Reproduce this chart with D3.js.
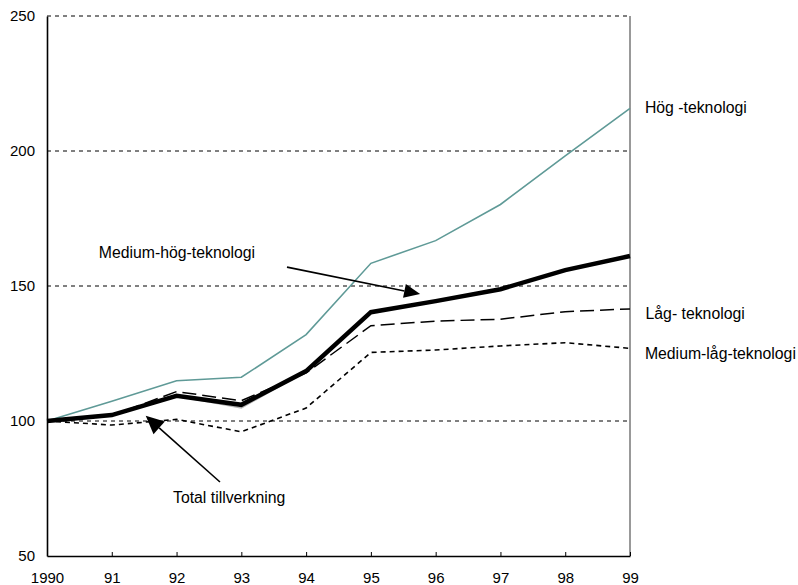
<!DOCTYPE html>
<html>
<head>
<meta charset="utf-8">
<script src="https://cdn.jsdelivr.net/npm/d3@7"></script>
<style>
  html, body { margin: 0; padding: 0; background: #fff; }
  svg { display: block; font-family: "Liberation Sans", Arial, sans-serif; }
</style>
</head>
<body>
<svg id="chart" width="798" height="585"></svg>
<script>
// Production index, 1990 = 100
const years = ["1990", "91", "92", "93", "94", "95", "96", "97", "98", "99"];
const yTicks = [50, 100, 150, 200, 250];

const hogTeknologi      = [100, 107.3, 114.9, 116.2, 132.0, 158.4, 166.8, 180.2, 198.2, 215.8];
const mediumHogTekn     = [100, 102.2, 109.3, 104.8, 118.5, 140.3, 144.4, 148.8, 155.9, 161.1];
const totalTillverkning = [100, 102.2, 109.3, 106.0, 118.5, 140.3, 144.4, 148.8, 155.9, 161.1];
const lagTeknologi      = [100, 102.0, 110.9, 107.5, 117.8, 135.3, 137.0, 137.7, 140.5, 141.5];
const mediumLagTekn     = [100,  98.5, 100.6,  96.0, 104.8, 125.4, 126.3, 127.8, 129.0, 126.9];

const svg = d3.select("#chart");
const plotLeft = 47, plotRight = 630, plotTop = 16, plotBottom = 556;

const x = d3.scaleLinear().domain([0, years.length - 1]).range([plotLeft, plotRight]);
const y = d3.scaleLinear().domain([50, 250]).range([plotBottom, plotTop]);

// dotted horizontal grid
svg.append("g").selectAll("line")
  .data(yTicks.filter(v => v > 50))
  .join("line")
  .attr("x1", plotLeft).attr("x2", plotRight)
  .attr("y1", d => y(d)).attr("y2", d => y(d))
  .attr("stroke", "#000").attr("stroke-width", 1)
  .attr("stroke-dasharray", "4,4");

// right frame line
svg.append("line")
  .attr("x1", plotRight).attr("x2", plotRight).attr("y1", plotTop).attr("y2", plotBottom)
  .attr("stroke", "#555").attr("stroke-width", 1.2);

// y axis
const yAxis = d3.axisLeft(y).tickValues(yTicks).tickSize(0).tickPadding(12);
const gy = svg.append("g").attr("transform", `translate(${plotLeft},0)`).call(yAxis);
gy.select(".domain").attr("stroke", "#000").attr("stroke-width", 1.6);
gy.selectAll("text").attr("font-size", 15).attr("fill", "#000")
  .attr("font-family", "Liberation Sans, Arial, sans-serif");

// x axis with inward ticks
const xAxis = d3.axisBottom(x).tickValues(d3.range(years.length))
  .tickFormat(i => years[i]).tickSizeInner(-4).tickSizeOuter(0).tickPadding(16);
const gx = svg.append("g").attr("transform", `translate(0,${plotBottom})`).call(xAxis);
gx.select(".domain").attr("stroke", "#000").attr("stroke-width", 1.6);
gx.selectAll(".tick line").attr("stroke", "#000").attr("stroke-width", 1);
gx.selectAll("text").attr("font-size", 15).attr("fill", "#000")
  .attr("font-family", "Liberation Sans, Arial, sans-serif");

const line = d3.line().x((d, i) => x(i)).y(d => y(d));

const series = [
  { values: hogTeknologi,      stroke: "#5f9a97", width: 1.6, dash: null },
  { values: mediumLagTekn,     stroke: "#000",    width: 1.6, dash: "5,4" },
  { values: lagTeknologi,      stroke: "#000",    width: 1.5, dash: "14,6" },
  { values: mediumHogTekn,     stroke: "#b5b5b5", width: 1.5, dash: null },
  { values: totalTillverkning, stroke: "#000",    width: 4.5, dash: null }
];

svg.append("g").selectAll("path")
  .data(series)
  .join("path")
  .attr("d", d => line(d.values))
  .attr("fill", "none")
  .attr("stroke", d => d.stroke)
  .attr("stroke-width", d => d.width)
  .attr("stroke-dasharray", d => d.dash)
  .attr("stroke-linejoin", "miter");

// series labels (positions in data units)
const labels = [
  { text: "Hög -teknologi",       xi: 9.23, v: 213.9 },
  { text: "Låg- teknologi",       xi: 9.24, v: 137.8 },
  { text: "Medium-låg-teknologi", xi: 9.23, v: 122.9 },
  { text: "Medium-hög-teknologi", xi: 0.80, v: 160.5 },
  { text: "Total tillverkning",   xi: 1.945, v: 69.5 }
];
svg.append("g").selectAll("text")
  .data(labels)
  .join("text")
  .attr("x", d => x(d.xi))
  .attr("y", d => y(d.v))
  .attr("font-size", 15.8)
  .attr("fill", "#000")
  .text(d => d.text);

// annotation arrows (data units: from -> tip)
const arrows = [
  { from: [3.705, 157.0], to: [5.76, 147.0], len: 16, half: 7 },
  { from: [2.67, 77.4],   to: [1.524, 101.9], len: 18, half: 8.5 }
];
const ga = svg.append("g");
arrows.forEach(a => {
  const x1 = x(a.from[0]), y1 = y(a.from[1]);
  const x2 = x(a.to[0]),   y2 = y(a.to[1]);
  const ang = Math.atan2(y2 - y1, x2 - x1);
  const bx = x2 - a.len * Math.cos(ang), by = y2 - a.len * Math.sin(ang);
  ga.append("line")
    .attr("x1", x1).attr("y1", y1).attr("x2", bx).attr("y2", by)
    .attr("stroke", "#000").attr("stroke-width", 1.6);
  const px = -Math.sin(ang) * a.half, py = Math.cos(ang) * a.half;
  ga.append("path")
    .attr("d", `M${x2},${y2}L${bx + px},${by + py}L${bx - px},${by - py}Z`)
    .attr("fill", "#000");
});
</script>
</body>
</html>
